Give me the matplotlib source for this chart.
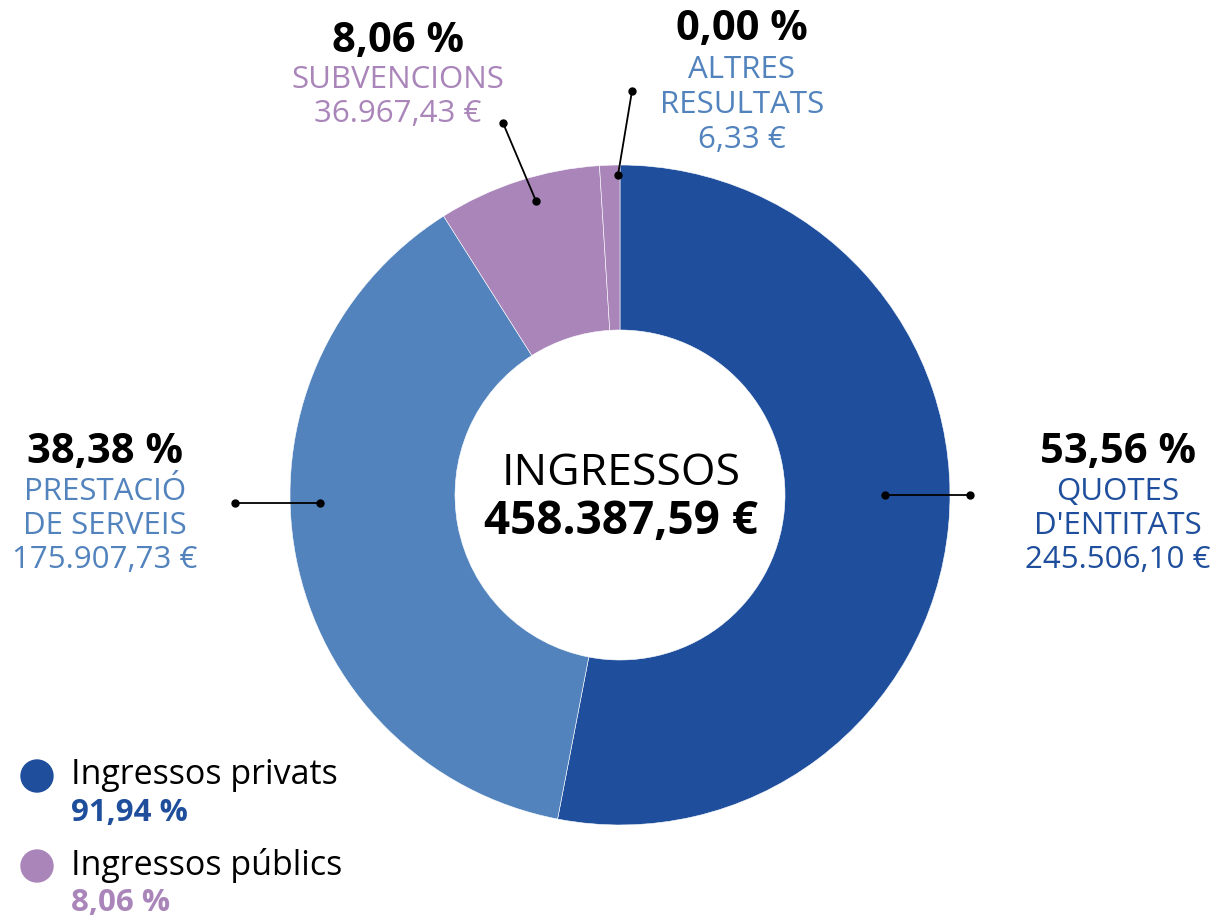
import matplotlib
matplotlib.use("Agg")
import matplotlib.pyplot as plt
from matplotlib.patches import Circle

# ---- data ----
categories = ["QUOTES\nD'ENTITATS", "PRESTACIÓ\nDE SERVEIS", "SUBVENCIONS", "ALTRES\nRESULTATS"]
values = [245506.10, 175907.73, 36967.43, 6.33]
colors = ["#1f4f9c", "#5283bd", "#a985ba", "#a985ba"]
label_colors = ["#1f4f9c", "#5283bd", "#a985ba", "#5283bd"]
center_title = "INGRESSOS"
legend_labels = ["Ingressos privats", "Ingressos públics"]
legend_pcts = [91.94, 8.06]
legend_colors = ["#1f4f9c", "#a985ba"]
MIN_SHARE = 0.01  # smallest visible slice share

FONT = ["Open Sans", "DejaVu Sans"]
plt.rcParams["font.family"] = FONT

W, H = 1220, 922


def Y(y):
    return H - y


def fmt_num(v, dec=2):
    s = f"{v:,.{dec}f}"
    return s.replace(",", "X").replace(".", ",").replace("X", ".")


total = sum(values)
shares = [v / total for v in values]
display = [max(s, MIN_SHARE) for s in shares]

fig = plt.figure(figsize=(W / 100, H / 100), dpi=100)
ax = fig.add_axes([0, 0, 1, 1])

cx, cy, R = 620, 495, 330
ax.pie(display, colors=colors, startangle=90, counterclock=False,
       radius=R, center=(cx, Y(cy)),
       wedgeprops=dict(width=165, edgecolor="white", linewidth=0.4))
ax.set_xlim(0, W)
ax.set_ylim(0, H)
ax.set_aspect("equal")
ax.axis("off")

# centre text
ax.text(621, Y(474), center_title, ha="center", va="center", fontsize=32,
        fontweight="normal", color="black")
ax.text(621, Y(522), fmt_num(total) + " €", ha="center", va="center",
        fontsize=33, fontweight="bold", color="black")

# label blocks: (x center, y of pct, y of first name line, line step)
blocks = [
    (1118, 452, 492, 34),
    (105, 452, 492, 34),
    (398, 42, 80, 34),
    (742, 30, 70, 35),
]
leaders = [
    ((885, 495), (970, 495)),
    ((320, 503), (235, 503)),
    ((536, 201), (503, 123)),
    ((618, 175), (632, 91)),
]

for i, cat in enumerate(categories):
    bx, py, ny, step = blocks[i]
    ax.text(bx, Y(py), fmt_num(shares[i] * 100) + " %", ha="center", va="center",
            fontsize=30, fontweight="bold", color="black")
    lines = cat.split("\n") + [fmt_num(values[i]) + " €"]
    for k, ln in enumerate(lines):
        ax.text(bx, Y(ny + k * step), ln, ha="center", va="center",
                fontsize=22.5, fontweight="normal", color=label_colors[i])
    (x0, y0), (x1, y1) = leaders[i]
    ax.plot([x0, x1], [Y(y0), Y(y1)], color="black", lw=1.3,
            marker="o", ms=5, solid_capstyle="butt")

# legend
for j, (lab, pct, col) in enumerate(zip(legend_labels, legend_pcts, legend_colors)):
    oy = j * 90
    ax.add_patch(Circle((37, Y(776 + oy)), 16, color=col))
    ax.text(71, Y(775 + oy), lab, ha="left", va="center", fontsize=24.5,
            color="black")
    ax.text(71, Y(813 + oy), fmt_num(pct) + " %", ha="left", va="center",
            fontsize=22.5, fontweight="bold", color=col)

fig.savefig("out.png", dpi=100)
